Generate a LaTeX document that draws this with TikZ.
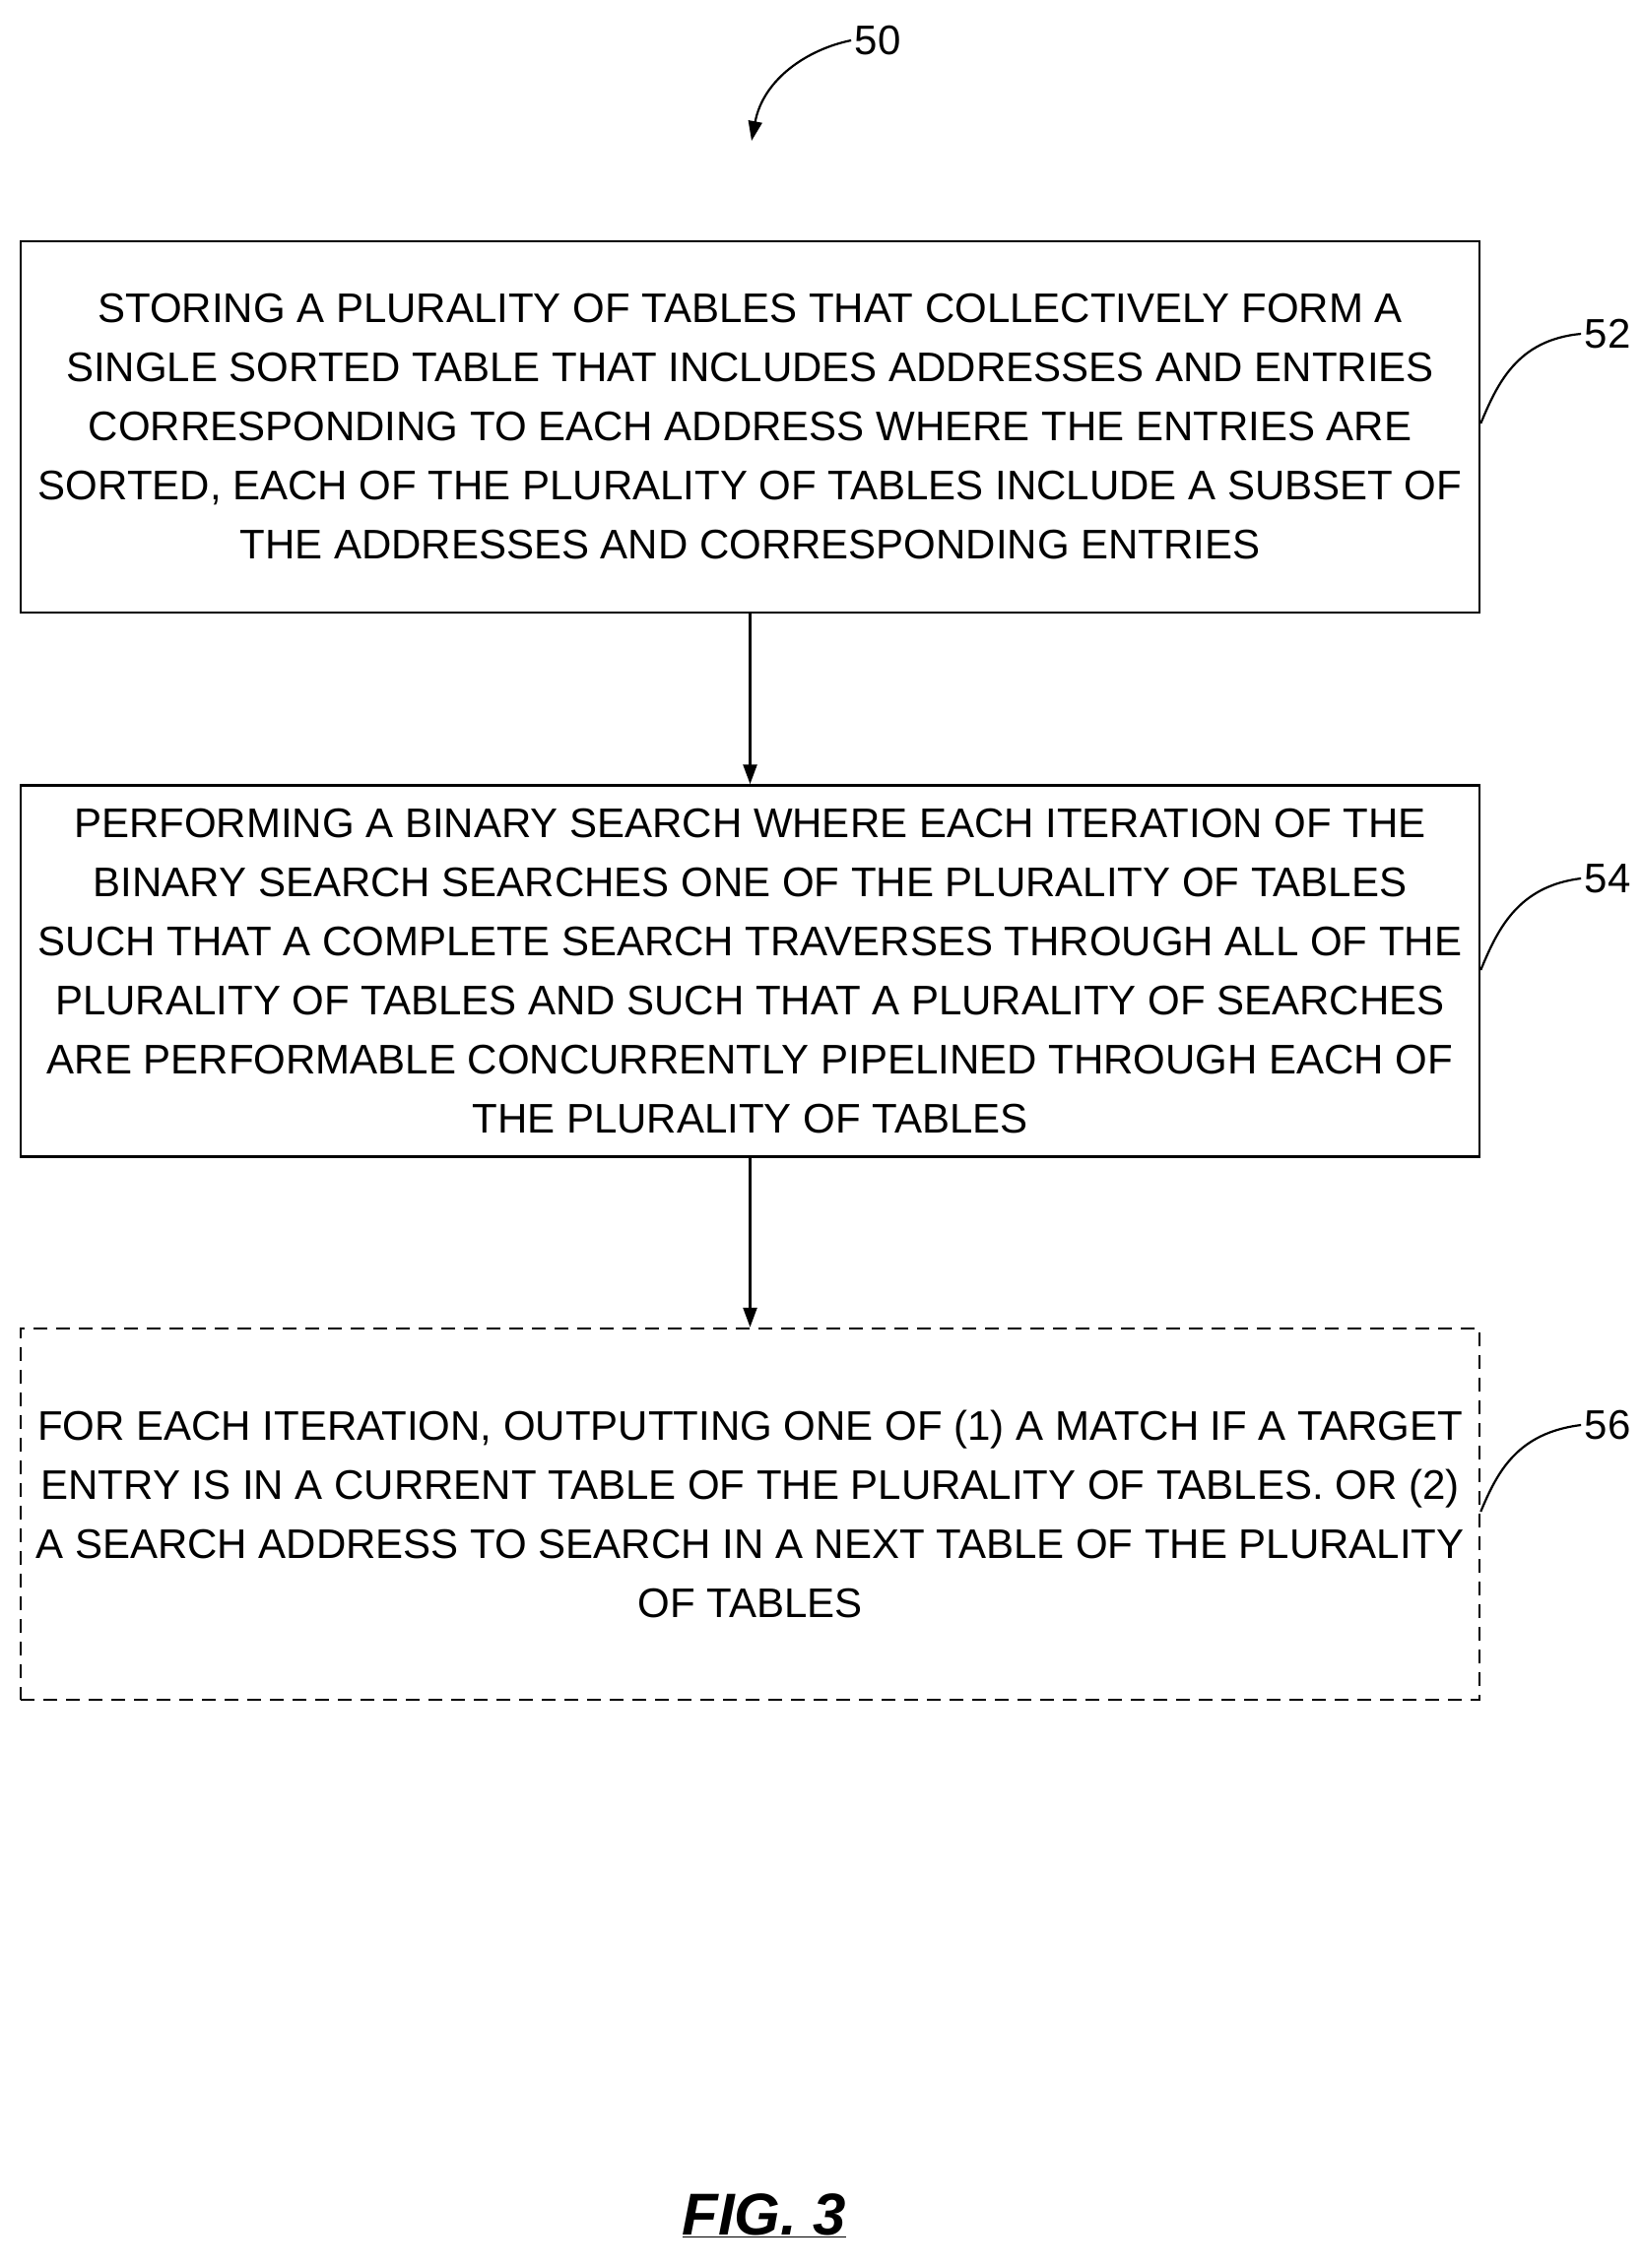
\documentclass[tikz,border=0pt]{standalone}
\usepackage{fontspec}
\setmainfont{Liberation Sans}
\usetikzlibrary{arrows.meta}
\begin{document}
\begin{tikzpicture}[x=1pt,y=-1pt,
  box/.style={draw,line width=2.5pt,minimum width=1481pt,minimum height=377pt,align=center,inner sep=0pt,font=\fontsize{42}{60}\selectfont},
  lbl/.style={font=\fontsize{42}{50}\selectfont},
  arr/.style={line width=2.5pt,-{Triangle[length=20pt,width=14pt]}},
  lead/.style={line width=2.2pt}]
\useasboundingbox (0,0) rectangle (1667,2303);
\node[box] (b52) at (761.5,433.5) {STORING A PLURALITY OF TABLES THAT COLLECTIVELY FORM A\\SINGLE SORTED TABLE THAT INCLUDES ADDRESSES AND ENTRIES\\CORRESPONDING TO EACH ADDRESS WHERE THE ENTRIES ARE\\SORTED, EACH OF THE PLURALITY OF TABLES INCLUDE A SUBSET OF\\THE ADDRESSES AND CORRESPONDING ENTRIES};
\node[box] (b54) at (761.5,986) {PERFORMING A BINARY SEARCH WHERE EACH ITERATION OF THE\\BINARY SEARCH SEARCHES ONE OF THE PLURALITY OF TABLES\\SUCH THAT A COMPLETE SEARCH TRAVERSES THROUGH ALL OF THE\\PLURALITY OF TABLES AND SUCH THAT A PLURALITY OF SEARCHES\\ARE PERFORMABLE CONCURRENTLY PIPELINED THROUGH EACH OF\\THE PLURALITY OF TABLES};
\node[box,dash pattern=on 14pt off 9pt] (b56) at (761.5,1537.5) {FOR EACH ITERATION, OUTPUTTING ONE OF (1) A MATCH IF A TARGET\\ENTRY IS IN A CURRENT TABLE OF THE PLURALITY OF TABLES. OR (2)\\A SEARCH ADDRESS TO SEARCH IN A NEXT TABLE OF THE PLURALITY\\OF TABLES};
\draw[arr] (b52) -- (b54);
\draw[arr] (b54) -- (b56);
\node[lbl] (n50) at (891,41) {50};
\node[lbl] (n52) at (1632,339) {52};
\node[lbl] (n54) at (1632,892) {54};
\node[lbl] (n56) at (1632,1447) {56};
\coordinate (a50) at (763,143);
\draw[arr,line width=2.2pt] (n50.west) .. controls (820,50) and (775,80) .. (a50);
\draw[lead] (b52.east|-0,430) .. controls (1520,390) and (1540,345) .. (n52.west);
\draw[lead] (b54.east|-0,985) .. controls (1520,945) and (1540,900) .. (n54.west);
\draw[lead] (b56.east|-0,1535) .. controls (1520,1495) and (1540,1455) .. (n56.west);
\node[font=\fontsize{60}{70}\selectfont\bfseries\itshape] (fig) at (776,2250) {\underline{FIG. 3}};
\end{tikzpicture}
\end{document}
